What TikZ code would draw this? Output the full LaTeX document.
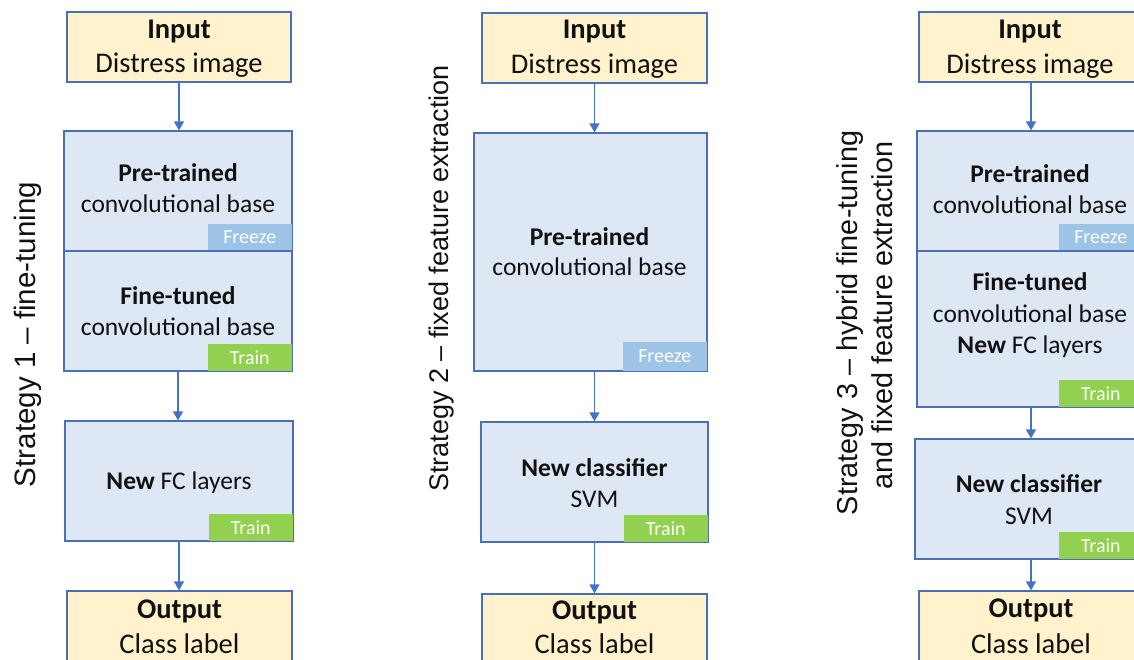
\documentclass[tikz,border=0pt]{standalone}
\usepackage{fontspec}
\setmainfont{Carlito}
\newfontfamily\arialf{Liberation Sans}
\usetikzlibrary{arrows.meta}
\definecolor{inyellow}{HTML}{FFF2CC}
\definecolor{lightblue}{HTML}{DEE8F5}
\definecolor{bordc}{HTML}{4A6FB5}
\definecolor{freezec}{HTML}{9DC3E6}
\definecolor{trainc}{HTML}{92D050}
\definecolor{arrc}{HTML}{4472C4}
\definecolor{txtc}{HTML}{111111}
\begin{document}
\begin{tikzpicture}[x=1pt,y=-1pt,
  ybox/.style={draw=bordc, fill=inyellow, line width=1.2pt, inner sep=0pt},
  bbox/.style={draw=bordc, fill=lightblue, line width=1.2pt, inner sep=0pt},
  badge/.style={inner sep=0pt, minimum height=27pt, minimum width=84pt, text=white,
    font=\fontsize{20}{24}\selectfont, anchor=south east},
  freeze/.style={badge, fill=freezec},
  train/.style={badge, fill=trainc},
  big/.style={font=\fontsize{28.5}{34}\selectfont, anchor=base, inner sep=0pt, text=txtc},
  med/.style={font=\fontsize{25.5}{31}\selectfont, anchor=base, inner sep=0pt, text=txtc},
  arr/.style={draw=arrc, line width=1.2pt, -{Triangle[width=10pt,length=9pt]}},
  strat/.style={rotate=90, anchor=base, inner sep=0pt, text=txtc}
]
\useasboundingbox (0,0) rectangle (1134,660);
\fill[white] (0,0) rectangle (1134,660);

% ---------- Strategy labels ----------
\node[strat, font=\arialf\fontsize{29.5}{35}\selectfont] (s1) at (35,334.5) {Strategy 1 – fine-tuning};
\node[strat, font=\arialf\fontsize{27}{32}\selectfont] (s2) at (448,278.5) {Strategy 2 – fixed feature extraction};
\node[strat, font=\arialf\fontsize{28.8}{34}\selectfont] (s3a) at (857,323) {Strategy 3 – hybrid fine-tuning};
\node[strat, font=\arialf\fontsize{28.8}{34}\selectfont] (s3b) at (892,315.5) {and fixed feature extraction};

% ---------- Column 1 ----------
\node[ybox, minimum width=224pt, minimum height=70pt] (in1) at (179,47) {};
\node[big] (in1a) at (179,39) {\textbf{Input}};
\node[big] (in1b) at (179,73) {Distress image};

\node[bbox, minimum width=228pt, minimum height=120pt] (pre1) at (178,191) {};
\node[freeze] (fz1) at ([xshift=-0.6pt,yshift=0.6pt]pre1.south east) {Freeze};
\node[med] (pre1a) at (178,182) {\textbf{Pre-trained}};
\node[med] (pre1b) at (178,213) {convolutional base};

\node[bbox, minimum width=228pt, minimum height=120pt] (fine1) at (178,311) {};
\node[train] (tr1) at ([xshift=-0.6pt,yshift=0.6pt]fine1.south east) {Train};
\node[med] (fine1a) at (178,304) {\textbf{Fine-tuned}};
\node[med] (fine1b) at (178,335) {convolutional base};

\node[bbox, minimum width=228pt, minimum height=120pt] (fc1) at (179,481) {};
\node[train] (tr1b) at ([xshift=-0.6pt,yshift=0.6pt]fc1.south east) {Train};
\node[med] (fc1a) at (179,489) {\textbf{New} FC layers};

\node[ybox, minimum width=225pt, minimum height=70pt] (out1) at (179.5,626) {};
\node[big] (out1a) at (179.5,618) {\textbf{Output}};
\node[big] (out1b) at (179.5,653) {Class label};

\draw[arr] (in1.south) -- (in1.south |- pre1.north);
\draw[arr] (fine1.south) -- (fine1.south |- fc1.north);
\draw[arr] (fc1.south) -- (fc1.south |- out1.north);

% ---------- Column 2 ----------
\node[ybox, minimum width=225pt, minimum height=70pt] (in2) at (594.5,48) {};
\node[big] (in2a) at (594.5,39) {\textbf{Input}};
\node[big] (in2b) at (594.5,74) {Distress image};

\node[bbox, minimum width=233pt, minimum height=238pt] (pre2) at (590.5,252) {};
\node[freeze, minimum height=29pt] (fz2) at ([xshift=-0.6pt,yshift=0.6pt]pre2.south east) {Freeze};
\node[med] (pre2a) at (589.5,245) {\textbf{Pre-trained}};
\node[med] (pre2b) at (589.5,276) {convolutional base};

\node[bbox, minimum width=227pt, minimum height=120pt] (cls2) at (594.5,482) {};
\node[train] (tr2) at ([xshift=-0.6pt,yshift=0.6pt]cls2.south east) {Train};
\node[med] (cls2a) at (594.5,476) {\textbf{New classifier}};
\node[med] (cls2b) at (594.5,507) {SVM};

\node[ybox, minimum width=225pt, minimum height=70pt] (out2) at (594.5,629) {};
\node[big] (out2a) at (594.5,619) {\textbf{Output}};
\node[big] (out2b) at (594.5,653) {Class label};

\draw[arr] (in2.south) -- (in2.south |- pre2.north);
\draw[arr] (cls2.north |- pre2.south) -- (cls2.north);
\draw[arr] (cls2.south) -- (cls2.south |- out2.north);

% ---------- Column 3 ----------
\node[ybox, minimum width=224pt, minimum height=70pt] (in3) at (1031,47) {};
\node[big] (in3a) at (1030,38.5) {\textbf{Input}};
\node[big] (in3b) at (1030,74) {Distress image};

\node[bbox, minimum width=226pt, minimum height=120pt] (pre3) at (1030,191) {};
\node[freeze] (fz3) at ([xshift=-0.6pt,yshift=0.6pt]pre3.south east) {Freeze};
\node[med] (pre3a) at (1030,183) {\textbf{Pre-trained}};
\node[med] (pre3b) at (1030,214) {convolutional base};

\node[bbox, minimum width=226pt, minimum height=156pt] (fine3) at (1030,329) {};
\node[train] (tr3) at ([xshift=-0.6pt,yshift=0.6pt]fine3.south east) {Train};
\node[med] (fine3a) at (1030,290) {\textbf{Fine-tuned}};
\node[med] (fine3b) at (1030,322) {convolutional base};
\node[med] (fine3c) at (1030,353) {\textbf{New} FC layers};

\node[bbox, minimum width=228pt, minimum height=120pt] (cls3) at (1029,499) {};
\node[train] (tr3b) at ([xshift=-0.6pt,yshift=0.6pt]cls3.south east) {Train};
\node[med] (cls3a) at (1029,492) {\textbf{New classifier}};
\node[med] (cls3b) at (1029,524) {SVM};

\node[ybox, minimum width=224pt, minimum height=70pt] (out3) at (1031,626) {};
\node[big] (out3a) at (1031,617) {\textbf{Output}};
\node[big] (out3b) at (1031,653) {Class label};

\draw[arr] (in3.south) -- (in3.south |- pre3.north);
\draw[arr] (in3.south |- fine3.south) -- (in3.south |- cls3.north);
\draw[arr] (in3.south |- cls3.south) -- (in3.south |- out3.north);
\end{tikzpicture}
\end{document}
